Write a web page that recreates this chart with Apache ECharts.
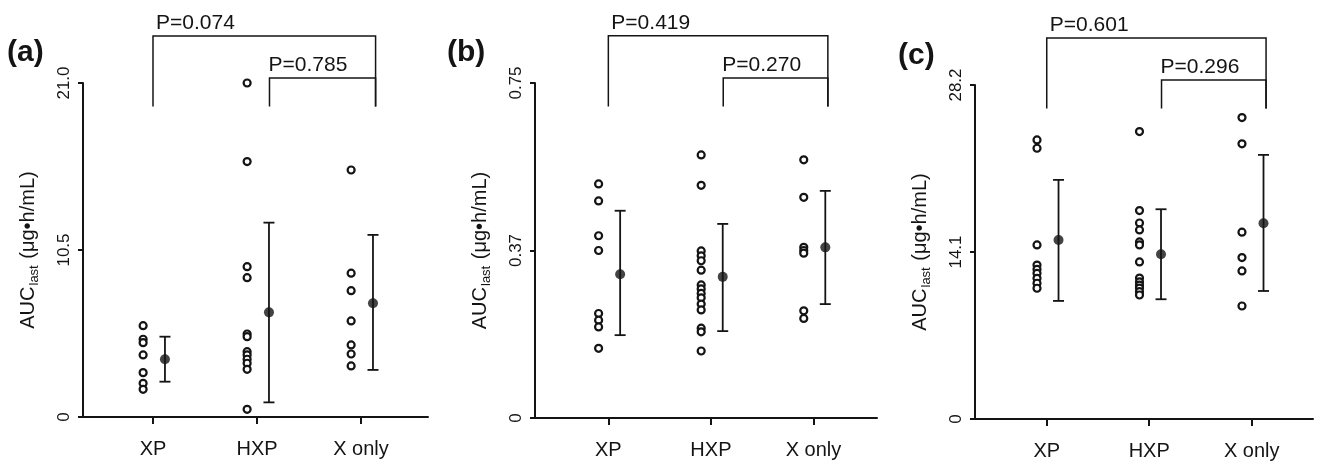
<!DOCTYPE html>
<html>
<head>
<meta charset="utf-8">
<script src="https://cdn.jsdelivr.net/npm/echarts@6/dist/echarts.min.js"></script>
<style>
  html, body { margin: 0; padding: 0; background: #fff; }
  #main { width: 1321px; height: 463px; }
</style>
</head>
<body>
<div id="main"></div>
<script>
var groups = ['XP', 'HXP', 'X only'];

// (a)
var aXP = [5.74, 4.89, 4.67, 3.90, 2.79, 2.12, 1.74];
var aHXP = [21.0, 16.06, 9.45, 8.76, 5.22, 5.05, 4.11, 3.90, 3.63, 3.38, 3.00, 0.48];
var aXonly = [15.53, 9.04, 7.94, 6.04, 4.53, 3.96, 3.21];
var aMean = [3.63, 6.58, 7.15];
var aLow = [2.22, 0.92, 2.96];
var aHigh = [5.05, 12.22, 11.45];
var aTicks = ['0', '10.5', '21.0'];
var aP = ['P=0.074', 'P=0.785'];

// (b)
var bXP = [0.524, 0.486, 0.408, 0.375, 0.234, 0.219, 0.204, 0.156];
var bHXP = [0.589, 0.521, 0.374, 0.363, 0.352, 0.331, 0.298, 0.289, 0.279, 0.269, 0.255, 0.242, 0.201, 0.193, 0.150];
var bXonly = [0.578, 0.494, 0.382, 0.375, 0.369, 0.240, 0.223];
var bMean = [0.322, 0.316, 0.382];
var bLow = [0.1855, 0.1945, 0.255];
var bHigh = [0.464, 0.4345, 0.5085];
var bTicks = ['0', '0.37', '0.75'];
var bP = ['P=0.419', 'P=0.270'];

// (c)
var cXP = [23.56, 22.86, 14.70, 13.0, 12.64, 12.30, 11.88, 11.46, 11.04];
var cHXP = [24.27, 17.6, 16.55, 15.96, 14.95, 14.70, 13.26, 11.9, 11.57, 11.3, 11.05, 10.75, 10.47];
var cXonly = [25.45, 23.23, 15.77, 13.63, 12.5, 9.54];
var cMean = [15.12, 13.91, 16.53];
var cLow = [9.97, 10.11, 10.81];
var cHigh = [20.19, 17.71, 22.3];
var cTicks = ['0', '14.1', '28.2'];
var cP = ['P=0.601', 'P=0.296'];

var FONT = '"Liberation Sans", Arial, sans-serif';
var INK = '#141414';

var panels = [
  { name: '(a)', pts: [aXP, aHXP, aXonly], mean: aMean, low: aLow, high: aHigh, ticks: aTicks, p: aP, max: 21.0,
    grid: { left: 83, top: 83, width: 345, height: 334 }, xr: [0.327, 3.644], title: { left: 7, top: 38 } },
  { name: '(b)', pts: [bXP, bHXP, bXonly], mean: bMean, low: bLow, high: bHigh, ticks: bTicks, p: bP, max: 0.75,
    grid: { left: 535, top: 83, width: 342, height: 335 }, xr: [0.285, 3.619], title: { left: 447, top: 38 } },
  { name: '(c)', pts: [cXP, cHXP, cXonly], mean: cMean, low: cLow, high: cHigh, ticks: cTicks, p: cP, max: 28.2,
    grid: { left: 975, top: 85, width: 338, height: 334 }, xr: [0.30, 3.598], title: { left: 898, top: 41 } }
];

function errorBar(params, api) {
  var x = api.value(0);
  var lo = api.coord([x, api.value(1)]);
  var hi = api.coord([x, api.value(2)]);
  var w = 5.5;
  var st = { stroke: INK, lineWidth: 1.8 };
  return {
    type: 'group',
    children: [
      { type: 'line', shape: { x1: lo[0], y1: lo[1], x2: hi[0], y2: hi[1] }, style: st },
      { type: 'line', shape: { x1: lo[0] - w, y1: lo[1], x2: lo[0] + w, y2: lo[1] }, style: st },
      { type: 'line', shape: { x1: hi[0] - w, y1: hi[1], x2: hi[0] + w, y2: hi[1] }, style: st }
    ]
  };
}

function makeBracket(labels) {
  return function (params, api) {
    var x1 = api.value(0), x2 = api.value(1), yTop = api.value(2), yBot = api.value(3);
    var a = api.coord([x1, yBot]), b = api.coord([x1, yTop]);
    var c = api.coord([x2, yTop]), d = api.coord([x2, yBot]);
    var dx = params.dataIndex === 0 ? 3 : -1;
    return {
      type: 'group',
      children: [
        { type: 'polyline', shape: { points: [a, b, c, d] }, style: { stroke: INK, lineWidth: 1.5, fill: null } },
        { type: 'text', style: { text: labels[params.dataIndex], x: b[0] + dx, y: b[1] - 2,
            verticalAlign: 'bottom', align: 'left', fill: INK, font: '21px ' + FONT } }
      ]
    };
  };
}

var option = { animation: false, title: [], grid: [], xAxis: [], yAxis: [], series: [] };

panels.forEach(function (pn, i) {
  option.title.push({ text: pn.name, left: pn.title.left, top: pn.title.top, padding: 0,
    textStyle: { fontSize: 30, fontWeight: 'bold', fontFamily: FONT, color: INK } });
  option.grid.push(pn.grid);
  option.xAxis.push({
    type: 'value', gridIndex: i, min: pn.xr[0], max: pn.xr[1],
    splitLine: { show: false },
    axisLine: { show: true, onZero: false, lineStyle: { color: INK, width: 2 } },
    axisTick: { show: true, length: 7, customValues: [1, 2, 3], lineStyle: { color: INK, width: 2 } },
    axisLabel: { customValues: [1, 2, 3], margin: 22, fontSize: 20, fontFamily: FONT, color: INK,
      formatter: function (v) { return groups[Math.round(v) - 1] || ''; } }
  });
  var ticks = pn.ticks;
  option.yAxis.push({
    type: 'value', gridIndex: i, min: 0, max: pn.max, interval: pn.max / 2,
    name: '{a|AUC}{b|last}{a| (μg•h/mL)}', nameLocation: 'middle', nameGap: 44,
    nameTextStyle: { fontFamily: FONT, color: INK,
      rich: { a: { fontSize: 20, fontFamily: FONT, color: INK, lineHeight: 22 },
              b: { fontSize: 13, fontFamily: FONT, color: INK, verticalAlign: 'top', padding: [11, 1, 0, 1], lineHeight: 13 } } },
    splitLine: { show: false },
    axisLine: { show: true, lineStyle: { color: INK, width: 2 } },
    axisTick: { show: true, length: 5, lineStyle: { color: INK, width: 2 } },
    axisLabel: { rotate: 90, margin: 10, fontSize: 17, fontFamily: FONT, color: INK,
      formatter: function (v) { return ticks[Math.round(v / (pn.max / 2))]; } }
  });

  var open = [];
  pn.pts.forEach(function (arr, g) {
    arr.forEach(function (v) { open.push([g + 1 - 0.095, v]); });
  });
  option.series.push({
    type: 'scatter', xAxisIndex: i, yAxisIndex: i, data: open, symbol: 'circle', symbolSize: 7,
    itemStyle: { color: '#fff', borderColor: INK, borderWidth: 2.2, opacity: 1 }, z: 3
  });
  option.series.push({
    type: 'custom', xAxisIndex: i, yAxisIndex: i, renderItem: errorBar, z: 2,
    data: pn.mean.map(function (m, g) { return [g + 1 + 0.115, pn.low[g], pn.high[g]]; })
  });
  option.series.push({
    type: 'scatter', xAxisIndex: i, yAxisIndex: i, symbol: 'circle', symbolSize: 10,
    itemStyle: { color: INK }, z: 4,
    data: pn.mean.map(function (m, g) { return [g + 1 + 0.115, m]; })
  });
  option.series.push({
    type: 'custom', xAxisIndex: i, yAxisIndex: i, renderItem: makeBracket(pn.p), clip: false, z: 5,
    data: [
      [1.0, 3.14, pn.max * 1.141, pn.max * 0.93],
      [2.12, 3.14, pn.max * 1.015, pn.max * 0.93]
    ]
  });
});

var myChart = echarts.init(document.getElementById('main'));
myChart.setOption(option);
</script>
</body>
</html>
